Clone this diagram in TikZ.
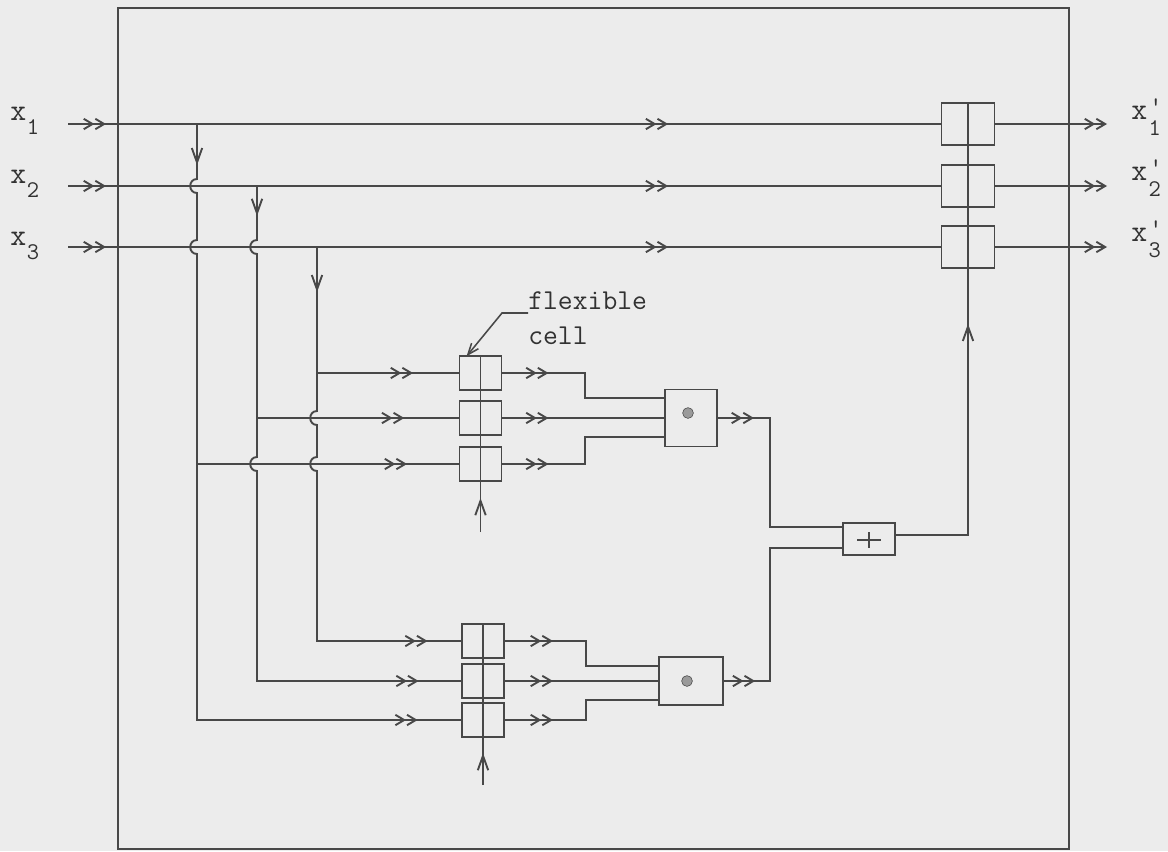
\documentclass[tikz,border=0pt]{standalone}
\usepackage{fontspec}
\usetikzlibrary{arrows.meta, calc, decorations.markings}

\definecolor{paper}{RGB}{236,236,236}
\definecolor{ink}{RGB}{72,72,72}

\tikzset{
  flowtip/.tip={Straight Barb[length=2.2mm,width=2.6mm] Straight Barb[length=2.2mm,width=2.6mm]},
  droptip/.tip={Straight Barb[length=3.6mm,width=2.6mm]},
  wire/.style={draw=ink, line width=1.35pt},
  flowat/.style={postaction={decorate, decoration={markings, mark=at position #1 with {\arrow{flowtip}}}}},
  dropat/.style={postaction={decorate, decoration={markings, mark=at position #1 with {\arrow{droptip}}}}},
  cell/.style={draw=ink, line width=1.35pt, minimum width=1.05cm, minimum height=0.85cm, inner sep=0pt},
  outcell/.style={cell, minimum width=1.325cm, minimum height=1.05cm},
  opbox/.style={draw=ink, line width=1.35pt, inner sep=0pt},
  lab/.style={text=ink!70!black, font=\ttfamily\fontsize{22}{22}\selectfont, inner sep=0pt},
}

% a vertical wire jumping over a horizontal one
\newcommand{\crosshop}[1]{-- ($(#1)+(0,-7)$) .. controls ($(#1)+(-9,-7)$) and ($(#1)+(-9,7)$) .. ($(#1)+(0,7)$)}
\newcommand{\xin}[1]{x\kern0.5pt\raisebox{-10pt}{\fontsize{17}{17}\selectfont#1}}
\newcommand{\xout}[1]{x\rlap{\kern1.5pt\raisebox{3pt}{\fontsize{18}{18}\selectfont'}}\raisebox{-11.5pt}{\kern1pt\fontsize{17}{17}\selectfont#1}}

\begin{document}
\begin{tikzpicture}[x=0.025cm, y=-0.025cm]
  \fill[paper] (0,0) rectangle (1168,851);
  \useasboundingbox (0,0) rectangle (1168,851);
  \draw[ink, line width=1.8pt] (118,8) rectangle (1069,849);

  % output cells, inputs and outputs
  \foreach \r/\y in {1/124, 2/186, 3/247} {
    \node[outcell] (o\r) at (968,\y) {};
    \coordinate (in\r) at (68,\y);
    \coordinate (out\r) at (1107,\y);
    \draw[wire, flowat=0.95cm, flowat=15cm] (in\r) -- (o\r.west);
    \draw[wire, -{flowtip}] (o\r.east) -- (out\r);
  }
  \node[lab, anchor=base west] (lx1) at (10,120) {\xin{1}};
  \node[lab, anchor=base west] (lx2) at (10,183) {\xin{2}};
  \node[lab, anchor=base west] (lx3) at (10,245) {\xin{3}};
  \node[lab, anchor=base west] (ly1) at (1131,119) {\xout{1}};
  \node[lab, anchor=base west] (ly2) at (1131,180) {\xout{2}};
  \node[lab, anchor=base west] (ly3) at (1131,241) {\xout{3}};

  % flexible cells
  \foreach \r/\y in {1/373, 2/418, 3/464}
    \node[cell] (fu\r) at (480.5,\y) {};
  \foreach \r/\y in {1/641, 2/681, 3/720}
    \node[cell] (fl\r) at (483,\y) {};

  % product and sum boxes
  \node[opbox, minimum width=1.3cm, minimum height=1.425cm] (produ) at (691,418) {};
  \node[opbox, minimum width=1.6cm, minimum height=1.2cm] (prodl) at (691,681) {};
  \node[circle, draw=ink, fill=ink!55, inner sep=0pt, minimum size=0.27cm] (dotu) at (688,413) {};
  \node[circle, draw=ink, fill=ink!55, inner sep=0pt, minimum size=0.27cm] (dotl) at (687,681) {};
  \node[opbox, minimum width=1.3cm, minimum height=0.8cm] (sum) at (869,539) {};
  \draw[wire] ($(sum.center)+(-12,1)$) -- ($(sum.center)+(12,1)$);
  \draw[wire] ($(sum.center)+(0,-7)$) -- ($(sum.center)+(0,9)$);

  % branches from the inputs
  \coordinate (b1) at (197,124);
  \coordinate (b2) at (257,186);
  \coordinate (b3) at (317,247);
  \coordinate (j1) at (b1 |- fu3.west);
  \coordinate (j2) at (b2 |- fu2.west);
  \coordinate (j3) at (b3 |- fu1.west);
  \draw[wire, dropat=1.03cm, flowat=20.8cm] (b1) \crosshop{197,186} \crosshop{197,247} |- (fl3.west);
  \draw[wire, flowat=5.25cm] (j1) -- (fu3.west);
  \draw[wire, dropat=0.75cm, flowat=16.8cm] (b2) \crosshop{257,247} \crosshop{257,464} |- (fl2.west);
  \draw[wire, flowat=3.68cm] (j2) -- (fu2.west);
  \draw[wire, dropat=1.13cm, flowat=13cm] (b3) \crosshop{317,418} \crosshop{317,464} |- (fl1.west);
  \draw[wire, flowat=2.4cm] (j3) -- (fu1.west);

  % cells to products
  \coordinate (k1) at (585,398);
  \coordinate (k3) at (585,437);
  \draw[wire, flowat=1.15cm] (fu1.east) -| (k1) -- (k1 -| produ.west);
  \draw[wire, flowat=1.15cm] (fu2.east) -- (produ.west);
  \draw[wire, flowat=1.15cm] (fu3.east) -| (k3) -- (k3 -| produ.west);
  \coordinate (k4) at (586,666);
  \coordinate (k6) at (586,700);
  \draw[wire, flowat=1.2cm] (fl1.east) -| (k4) -- (k4 -| prodl.west);
  \draw[wire, flowat=1.2cm] (fl2.east) -- (prodl.west);
  \draw[wire, flowat=1.2cm] (fl3.east) -| (k6) -- (k6 -| prodl.west);

  % products to sum, sum back to the outputs
  \coordinate (m1) at (770,527);
  \coordinate (m2) at (770,548);
  \draw[wire, flowat=0.9cm] (produ.east) -| (m1) -- (m1 -| sum.west);
  \draw[wire, flowat=0.78cm] (prodl.east) -| (m2) -- (m2 -| sum.west);
  \draw[wire, dropat=7.08cm] ([yshift=0.1cm]sum.east) -| (o1.north);

  % control inputs of the flexible cells
  \coordinate (cu) at (480.5,532);
  \coordinate (cl) at (483,785);
  \draw[wire, dropat=0.85cm] (cu) -- (fu1.north);
  \draw[wire, dropat=0.8cm] (cl) -- (fl1.north);

  \node[lab, font=\ttfamily\fontsize{20.5}{25}\selectfont, align=left, anchor=north west] (flex) at (528,291) {flexible\\cell};
  \draw[wire, line width=1.1pt, -{Straight Barb[length=2.8mm,width=2.2mm]}] (flex.north west) ++(0,22) -- ++(-26,0) -- ([xshift=0.2cm,yshift=-0.03cm]fu1.north west);
\end{tikzpicture}
\end{document}
